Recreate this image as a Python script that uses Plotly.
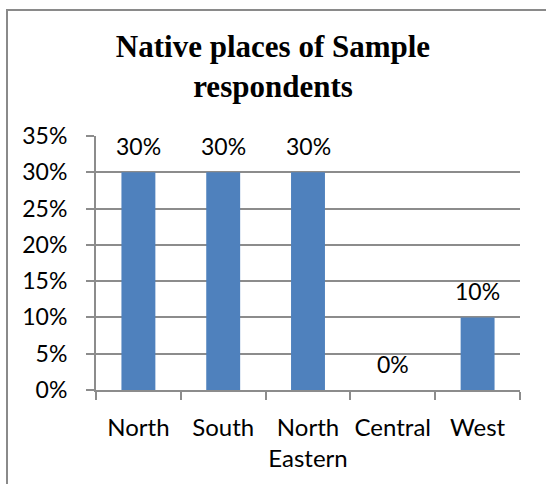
import plotly.graph_objects as go

categories = ["North", "South", "North<br>Eastern", "Central", "West"]
values = [0.30, 0.30, 0.30, 0.0, 0.10]
value_labels = ["30%", "30%", "30%", "0%", "10%"]
title_text = "<b>Native places of Sample<br>respondents</b>"

W, H = 546, 484
L, R, T, B = 96, 26, 136, 94
FONT = "Lato, Open Sans, sans-serif"
FS = 23
GRID = "#8c8c8c"

fig = go.Figure()
fig.add_trace(go.Bar(
    x=categories, y=values,
    marker=dict(color="#4F81BD", line=dict(width=0)),
    hoverinfo="skip",
))

for c, v, t in zip(categories, values, value_labels):
    fig.add_annotation(x=c, y=v, text=t, showarrow=False, xref="x", yref="y",
                       yanchor="middle", yshift=26,
                       font=dict(family=FONT, size=FS, color="black"))

pw = W - L - R
ph = H - T - B
# outer chart frame (extends past the right and bottom edges)
fig.add_shape(type="rect", xref="paper", yref="paper",
              x0=(7 - L) / pw, x1=(W + 20 - L) / pw,
              y0=(H - B - (H + 20)) / ph, y1=(H - B - 10) / ph,
              line=dict(color="#8a8a8a", width=2), fillcolor="rgba(0,0,0,0)",
              layer="above")

fig.update_layout(
    width=W, height=H,
    margin=dict(l=L, r=R, t=T, b=B, autoexpand=False),
    paper_bgcolor="white", plot_bgcolor="white",
    bargap=0.6, showlegend=False,
    title=dict(text=title_text, x=0.5, xref="container", xanchor="center",
               y=1 - 57 / H, yref="container", yanchor="top",
               font=dict(family="Liberation Serif, Times New Roman, serif",
                         size=31, color="black")),
    font=dict(family=FONT, size=FS, color="black"),
)
fig.update_xaxes(
    type="category", tickson="boundaries", ticks="outside", ticklen=8,
    tickcolor=GRID, tickwidth=2, showline=True, linecolor=GRID, linewidth=2,
    showgrid=False, ticklabelstandoff=15, tickangle=0,
    tickfont=dict(family=FONT, size=24, color="black"),
)
fig.update_yaxes(
    range=[0, 0.35], dtick=0.05, tick0=0, tickformat=".0%",
    ticks="outside", ticklen=8, tickcolor=GRID, tickwidth=2,
    showline=True, linecolor=GRID, linewidth=2,
    showgrid=True, gridcolor=GRID, gridwidth=2, zeroline=False,
    ticklabelstandoff=14,
    tickfont=dict(family=FONT, size=FS, color="black"),
)

fig.write_html("out.html", config={"displayModeBar": False},
               post_script="document.body.style.margin='0';document.body.style.padding='0';")
